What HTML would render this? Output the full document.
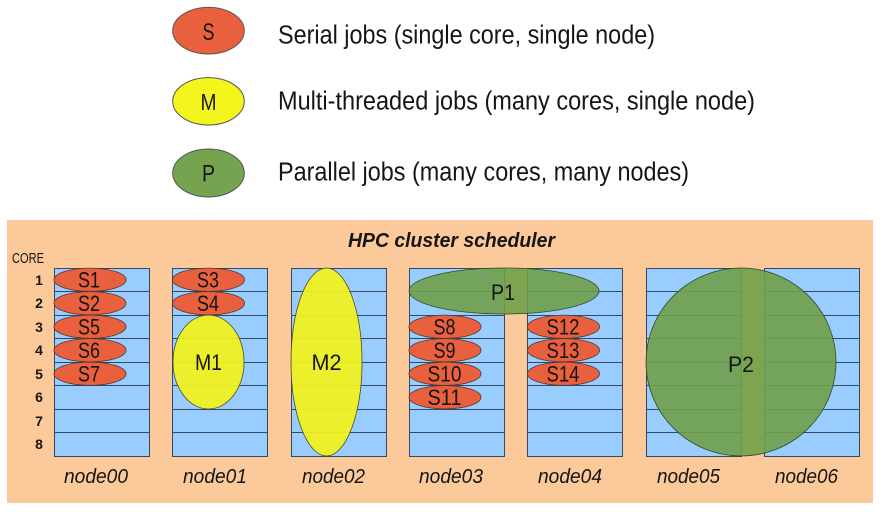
<!DOCTYPE html>
<html><head><meta charset="utf-8"><style>
html,body{margin:0;padding:0;background:#fff;}
svg{display:block;}
text{font-family:"Liberation Sans",Arial,sans-serif;fill:#151515;}
</style></head><body>
<svg width="886" height="512" viewBox="0 0 886 512" xmlns="http://www.w3.org/2000/svg">
<rect width="886" height="512" fill="#fff"/>
<!-- legend -->
<ellipse cx="208.5" cy="30.7" rx="35.8" ry="23.3" fill="#e9603e" stroke="#555" stroke-width="1"/>
<ellipse cx="208.5" cy="101.3" rx="35.8" ry="23.7" fill="#f5f51e" stroke="#555" stroke-width="1"/>
<ellipse cx="208.5" cy="173" rx="35.8" ry="24" fill="#76a34f" stroke="#555" stroke-width="1"/>
<text x="208.5" y="40" font-size="24" text-anchor="middle" textLength="12" lengthAdjust="spacingAndGlyphs">S</text>
<text x="208.5" y="110" font-size="23" text-anchor="middle" textLength="16" lengthAdjust="spacingAndGlyphs">M</text>
<text x="208.5" y="181.5" font-size="24" text-anchor="middle" textLength="13" lengthAdjust="spacingAndGlyphs">P</text>
<text x="278" y="43.5" font-size="25.5" textLength="377" lengthAdjust="spacingAndGlyphs">Serial jobs (single core, single node)</text>
<text x="278" y="109.5" font-size="25.5" textLength="477" lengthAdjust="spacingAndGlyphs">Multi-threaded jobs (many cores, single node)</text>
<text x="278" y="180.5" font-size="25.5" textLength="411" lengthAdjust="spacingAndGlyphs">Parallel jobs (many cores, many nodes)</text>

<!-- panel -->
<rect x="7" y="220" width="866" height="283" fill="#fcc99a"/>
<text x="348" y="247" font-size="20" font-weight="bold" font-style="italic" textLength="207" lengthAdjust="spacingAndGlyphs">HPC cluster scheduler</text>
<text x="12" y="263" font-size="14.5" textLength="32" lengthAdjust="spacingAndGlyphs">CORE</text>
<g font-size="14" font-weight="bold" text-anchor="middle">
<text x="39" y="285">1</text>
<text x="39" y="308">2</text>
<text x="39" y="332">3</text>
<text x="39" y="355">4</text>
<text x="39" y="379">5</text>
<text x="39" y="402">6</text>
<text x="39" y="426">7</text>
<text x="39" y="449">8</text>
</g>

<!-- node boxes -->
<defs>
<g id="box">
<rect x="0.5" y="268.5" width="95" height="188" fill="#99ccff" stroke="#34495e" stroke-width="1"/>
<g stroke="#34495e" stroke-width="1">
<line x1="0.5" x2="95.5" y1="291.5" y2="291.5"/>
<line x1="0.5" x2="95.5" y1="315.5" y2="315.5"/>
<line x1="0.5" x2="95.5" y1="338.5" y2="338.5"/>
<line x1="0.5" x2="95.5" y1="362.5" y2="362.5"/>
<line x1="0.5" x2="95.5" y1="385.5" y2="385.5"/>
<line x1="0.5" x2="95.5" y1="409.5" y2="409.5"/>
<line x1="0.5" x2="95.5" y1="432.5" y2="432.5"/>
</g>
</g>
</defs>
<use href="#box" x="54"/>
<use href="#box" x="172"/>
<use href="#box" x="291"/>
<use href="#box" x="409"/>
<use href="#box" x="527"/>
<use href="#box" x="646"/>
<use href="#box" x="764"/>

<!-- serial jobs -->
<g fill="#e9603e" stroke="#4a3a35" stroke-width="0.8">
<ellipse cx="90" cy="279.75" rx="36" ry="11.6"/>
<ellipse cx="90" cy="303.25" rx="36" ry="11.6"/>
<ellipse cx="90" cy="326.75" rx="36" ry="11.6"/>
<ellipse cx="90" cy="350.25" rx="36" ry="11.6"/>
<ellipse cx="90" cy="373.75" rx="36" ry="11.6"/>
<ellipse cx="208.5" cy="279.75" rx="36" ry="11.6"/>
<ellipse cx="208.5" cy="303.25" rx="36" ry="11.6"/>
<ellipse cx="445" cy="326.75" rx="36" ry="11.6"/>
<ellipse cx="445" cy="350.25" rx="36" ry="11.6"/>
<ellipse cx="445" cy="373.75" rx="36" ry="11.6"/>
<ellipse cx="445" cy="397.25" rx="36" ry="11.6"/>
<ellipse cx="563.5" cy="326.75" rx="36" ry="11.6"/>
<ellipse cx="563.5" cy="350.25" rx="36" ry="11.6"/>
<ellipse cx="563.5" cy="373.75" rx="36" ry="11.6"/>
</g>
<!-- multi-threaded -->
<g fill="#f2f21c" fill-opacity="0.93" stroke="#4a4a30" stroke-width="0.8">
<ellipse cx="208.5" cy="362" rx="35.5" ry="47"/>
<ellipse cx="326.5" cy="362" rx="35.5" ry="94"/>
</g>
<!-- parallel -->
<g fill="#70a04a" fill-opacity="0.9" stroke="#2f4a2a" stroke-width="0.8">
<ellipse cx="504" cy="291" rx="95" ry="23"/>
<ellipse cx="741" cy="362" rx="95" ry="94"/>
</g>

<!-- job labels -->
<g font-size="22.5" text-anchor="middle">
<text x="89" y="287.5" textLength="22" lengthAdjust="spacingAndGlyphs">S1</text>
<text x="89" y="311" textLength="22" lengthAdjust="spacingAndGlyphs">S2</text>
<text x="89" y="334.5" textLength="22" lengthAdjust="spacingAndGlyphs">S5</text>
<text x="89" y="358" textLength="22" lengthAdjust="spacingAndGlyphs">S6</text>
<text x="89" y="381.5" textLength="22" lengthAdjust="spacingAndGlyphs">S7</text>
<text x="208" y="287.5" textLength="22" lengthAdjust="spacingAndGlyphs">S3</text>
<text x="208" y="311" textLength="22" lengthAdjust="spacingAndGlyphs">S4</text>
<text x="444.5" y="334.5" textLength="22" lengthAdjust="spacingAndGlyphs">S8</text>
<text x="444.5" y="358" textLength="22" lengthAdjust="spacingAndGlyphs">S9</text>
<text x="444.5" y="381.5" textLength="34" lengthAdjust="spacingAndGlyphs">S10</text>
<text x="444.5" y="405" textLength="34" lengthAdjust="spacingAndGlyphs">S11</text>
<text x="563" y="334.5" textLength="33" lengthAdjust="spacingAndGlyphs">S12</text>
<text x="563" y="358" textLength="33" lengthAdjust="spacingAndGlyphs">S13</text>
<text x="563" y="381.5" textLength="33" lengthAdjust="spacingAndGlyphs">S14</text>
<text x="208.5" y="370" textLength="27" lengthAdjust="spacingAndGlyphs">M1</text>
<text x="326.5" y="370" textLength="30" lengthAdjust="spacingAndGlyphs">M2</text>
<text x="503" y="300" textLength="24" lengthAdjust="spacingAndGlyphs">P1</text>
<text x="741" y="372" textLength="26" lengthAdjust="spacingAndGlyphs">P2</text>
</g>

<!-- node labels -->
<g font-size="20.5" font-style="italic">
<text x="64" y="483" textLength="64" lengthAdjust="spacingAndGlyphs">node00</text>
<text x="183" y="483" textLength="64" lengthAdjust="spacingAndGlyphs">node01</text>
<text x="302" y="483" textLength="63" lengthAdjust="spacingAndGlyphs">node02</text>
<text x="419" y="483" textLength="64" lengthAdjust="spacingAndGlyphs">node03</text>
<text x="538" y="483" textLength="64" lengthAdjust="spacingAndGlyphs">node04</text>
<text x="657" y="483" textLength="63" lengthAdjust="spacingAndGlyphs">node05</text>
<text x="775" y="483" textLength="63" lengthAdjust="spacingAndGlyphs">node06</text>
</g>
</svg>
</body></html>
